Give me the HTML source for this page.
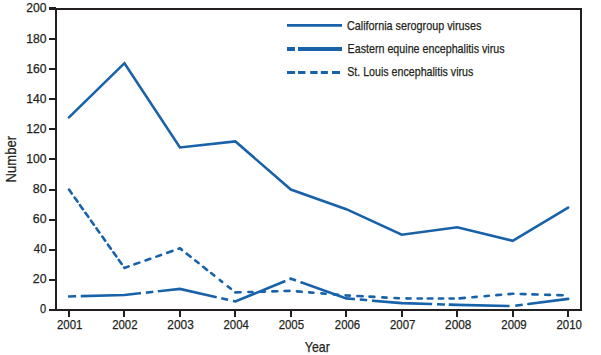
<!DOCTYPE html>
<html><head><meta charset="utf-8"><style>
html,body{margin:0;padding:0;background:#fff;width:601px;height:355px;overflow:hidden}
svg{display:block}
text{font-family:"Liberation Sans",sans-serif;font-size:13px;fill:#231f20;stroke:#231f20;stroke-width:0.25px}
</style></head><body>
<svg width="601" height="355" viewBox="0 0 601 355">
<rect x="56" y="9" width="525" height="301" fill="none" stroke="#231f20" stroke-width="2"/>
<line x1="49" y1="310" x2="56" y2="310" stroke="#231f20" stroke-width="2"/>
<line x1="49" y1="280" x2="56" y2="280" stroke="#231f20" stroke-width="2"/>
<line x1="49" y1="250" x2="56" y2="250" stroke="#231f20" stroke-width="2"/>
<line x1="49" y1="220" x2="56" y2="220" stroke="#231f20" stroke-width="2"/>
<line x1="49" y1="190" x2="56" y2="190" stroke="#231f20" stroke-width="2"/>
<line x1="49" y1="159" x2="56" y2="159" stroke="#231f20" stroke-width="2"/>
<line x1="49" y1="129" x2="56" y2="129" stroke="#231f20" stroke-width="2"/>
<line x1="49" y1="99" x2="56" y2="99" stroke="#231f20" stroke-width="2"/>
<line x1="49" y1="69" x2="56" y2="69" stroke="#231f20" stroke-width="2"/>
<line x1="49" y1="39" x2="56" y2="39" stroke="#231f20" stroke-width="2"/>
<line x1="49" y1="8.5" x2="56" y2="8.5" stroke="#231f20" stroke-width="3"/>
<line x1="69" y1="310" x2="69" y2="317" stroke="#231f20" stroke-width="2"/>
<line x1="124" y1="310" x2="124" y2="317" stroke="#231f20" stroke-width="2"/>
<line x1="180" y1="310" x2="180" y2="317" stroke="#231f20" stroke-width="2"/>
<line x1="235" y1="310" x2="235" y2="317" stroke="#231f20" stroke-width="2"/>
<line x1="291" y1="310" x2="291" y2="317" stroke="#231f20" stroke-width="2"/>
<line x1="346" y1="310" x2="346" y2="317" stroke="#231f20" stroke-width="2"/>
<line x1="402" y1="310" x2="402" y2="317" stroke="#231f20" stroke-width="2"/>
<line x1="457" y1="310" x2="457" y2="317" stroke="#231f20" stroke-width="2"/>
<line x1="513" y1="310" x2="513" y2="317" stroke="#231f20" stroke-width="2"/>
<line x1="568" y1="310" x2="568" y2="317" stroke="#231f20" stroke-width="2"/>
<polyline points="69.00,117.36 124.46,63.18 179.92,147.46 235.38,141.44 290.84,189.60 346.30,209.17 401.76,234.75 457.22,227.23 512.68,240.77 568.14,207.66" fill="none" stroke="#1862aa" stroke-width="2.6" stroke-linejoin="miter" stroke-linecap="round"/>
<path d="M69.00,189.60 L71.80,193.54 M74.60,197.51 L77.50,201.59 M80.00,205.13 L82.90,209.21 M85.40,212.75 L88.30,216.83 M91.00,220.65 L93.90,224.73 M96.50,228.41 L99.40,232.49 M102.30,236.60 L105.20,240.68 M108.00,244.64 L110.90,248.72 M113.40,252.26 L116.30,256.34 M118.80,259.88 L121.70,263.96 M124.20,267.50 L124.46,267.86 L128.54,266.42 M134.46,264.33 L139.34,262.61 M145.56,260.42 L150.24,258.77 M156.36,256.61 L161.04,254.96 M167.16,252.80 L172.44,250.93 M178.56,248.77 L179.92,248.30 L181.93,249.89 M186.67,253.66 L190.63,256.81 M195.27,260.50 L198.53,263.09 M203.17,266.78 L207.13,269.93 M211.07,273.06 L214.23,275.58 M219.77,279.98 L222.13,281.86 M227.67,286.26 L230.83,288.78 M235.37,292.38 L235.38,292.39 L240.54,292.25 M248.36,292.04 L252.44,291.93 M260.36,291.71 L264.94,291.59 M272.36,291.39 L277.34,291.25 M284.56,291.06 L289.44,290.92 M296.94,291.38 L301.66,291.77 M309.14,292.38 L313.46,292.73 M321.44,293.38 L325.66,293.72 M333.64,294.37 L338.16,294.74 M345.64,295.35 L346.30,295.40 L349.85,295.59 M357.35,296.00 L362.65,296.29 M369.55,296.66 L374.35,296.92 M382.35,297.36 L386.55,297.59 M394.55,298.02 L398.85,298.25 M406.47,298.42 L410.63,298.44 M417.57,298.45 L421.83,298.47 M427.77,298.48 L432.43,298.49 M438.87,298.51 L443.13,298.52 M449.57,298.54 L453.73,298.55 M459.64,298.35 L464.86,297.90 M472.34,297.25 L476.66,296.87 M484.64,296.18 L488.86,295.81 M496.34,295.16 L501.16,294.75 M508.54,294.11 L512.68,293.75 L513.34,293.77 M520.66,293.98 L525.44,294.13 M532.36,294.33 L537.64,294.49 M545.16,294.72 L549.94,294.86 M557.36,295.08 L562.64,295.24" fill="none" stroke="#1862aa" stroke-width="2.6" stroke-linecap="round" stroke-linejoin="miter"/>
<path d="M69.35,296.45 L74.85,296.30 M82.05,296.10 L124.46,294.95 L139.65,293.30 M147.15,292.49 L152.05,291.96 M159.15,291.18 L179.92,288.93 L215.45,296.93 M222.55,298.53 L226.85,299.50 M234.25,301.17 L235.38,301.42 L284.15,281.44 M290.65,278.77 L290.84,278.70 L294.75,280.09 M301.65,282.54 L346.30,298.41 L353.65,299.03 M361.05,299.65 L365.85,300.06 M373.35,300.69 L401.76,303.08 L430.85,304.02 M438.35,304.27 L443.65,304.44 M450.05,304.65 L457.22,304.88 L508.25,305.99 M516.55,305.58 L521.45,304.94" fill="none" stroke="#1862aa" stroke-width="2.6" stroke-linecap="square" stroke-linejoin="miter"/>
<path d="M528.35,304.05 L568.14,298.86" fill="none" stroke="#1862aa" stroke-width="2.6" stroke-linecap="round" stroke-linejoin="miter"/>
<line x1="287" y1="25.4" x2="342" y2="25.4" stroke="#1862aa" stroke-width="2.8"/>
<line x1="287" y1="49" x2="342" y2="49" stroke="#1862aa" stroke-width="4" stroke-dasharray="8 3 44 10"/>
<path d="M287.0,72.4 H295.1 M298.0,72.4 H305.4 M310.2,72.4 H317.6 M320.8,72.4 H327.9 M332.0,72.4 H340.0" stroke="#1862aa" stroke-width="3"/>
<text id="t0" x="40.00" y="312.60" textLength="6.15" lengthAdjust="spacingAndGlyphs">0</text>
<text id="t1" x="32.80" y="282.60" textLength="13.75" lengthAdjust="spacingAndGlyphs">20</text>
<text id="t2" x="33.80" y="252.60" textLength="12.83" lengthAdjust="spacingAndGlyphs">40</text>
<text id="t3" x="32.80" y="222.60" textLength="13.75" lengthAdjust="spacingAndGlyphs">60</text>
<text id="t4" x="32.80" y="192.60" textLength="13.90" lengthAdjust="spacingAndGlyphs">80</text>
<text id="t5" x="26.20" y="162.60" textLength="20.26" lengthAdjust="spacingAndGlyphs">100</text>
<text id="t6" x="26.20" y="132.60" textLength="20.26" lengthAdjust="spacingAndGlyphs">120</text>
<text id="t7" x="26.20" y="102.60" textLength="20.26" lengthAdjust="spacingAndGlyphs">140</text>
<text id="t8" x="26.20" y="72.60" textLength="20.26" lengthAdjust="spacingAndGlyphs">160</text>
<text id="t9" x="26.20" y="42.60" textLength="20.26" lengthAdjust="spacingAndGlyphs">180</text>
<text id="t10" x="26.20" y="11.50" textLength="20.26" lengthAdjust="spacingAndGlyphs">200</text>
<text id="t11" x="57.00" y="328.60" textLength="25.44" lengthAdjust="spacingAndGlyphs">2001</text>
<text id="t12" x="112.16" y="328.60" textLength="25.34" lengthAdjust="spacingAndGlyphs">2002</text>
<text id="t13" x="167.32" y="328.60" textLength="26.46" lengthAdjust="spacingAndGlyphs">2003</text>
<text id="t14" x="223.48" y="328.60" textLength="25.34" lengthAdjust="spacingAndGlyphs">2004</text>
<text id="t15" x="278.64" y="328.60" textLength="25.44" lengthAdjust="spacingAndGlyphs">2005</text>
<text id="t16" x="334.80" y="328.60" textLength="25.34" lengthAdjust="spacingAndGlyphs">2006</text>
<text id="t17" x="389.96" y="328.60" textLength="25.44" lengthAdjust="spacingAndGlyphs">2007</text>
<text id="t18" x="445.12" y="328.60" textLength="26.35" lengthAdjust="spacingAndGlyphs">2008</text>
<text id="t19" x="501.28" y="328.60" textLength="25.44" lengthAdjust="spacingAndGlyphs">2009</text>
<text id="t20" x="556.44" y="328.60" textLength="25.44" lengthAdjust="spacingAndGlyphs">2010</text>
<text id="t21" x="347.00" y="30.00" textLength="134.42" lengthAdjust="spacingAndGlyphs">California serogroup viruses</text>
<text id="t22" x="347.60" y="53.00" textLength="156.95" lengthAdjust="spacingAndGlyphs">Eastern equine encephalitis virus</text>
<text id="t23" x="347.20" y="76.40" textLength="126.16" lengthAdjust="spacingAndGlyphs">St. Louis encephalitis virus</text>
<text id="t24" x="304.80" y="352.20" textLength="25.06" lengthAdjust="spacingAndGlyphs" style="font-size:14.2px">Year</text>
<text id="t25" transform="translate(16.00,182.40) rotate(-90)" textLength="46.40" lengthAdjust="spacingAndGlyphs" style="font-size:14.2px">Number</text>
</svg>
</body></html>
